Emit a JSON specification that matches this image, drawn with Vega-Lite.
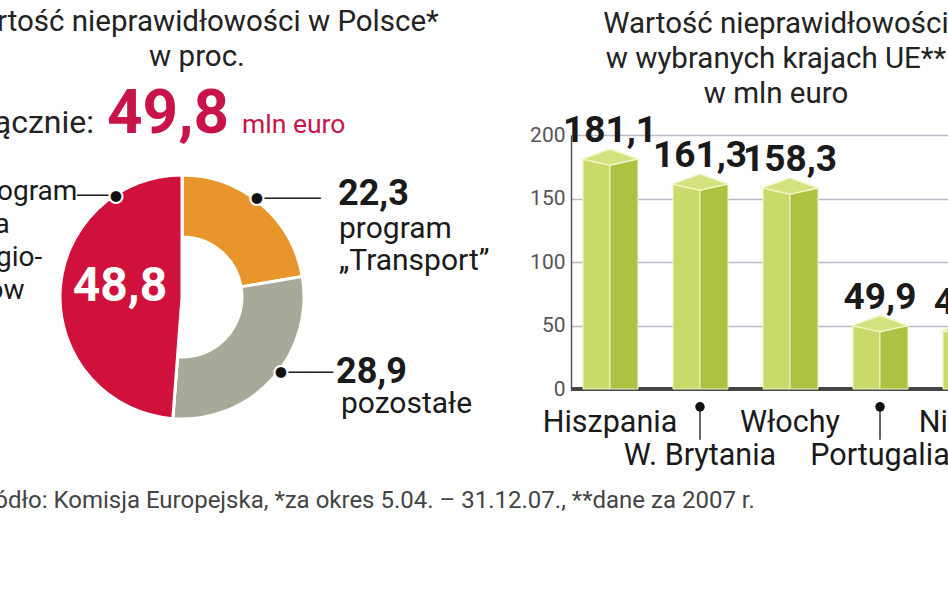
{
  "$schema": "https://vega.github.io/schema/vega-lite/v6.json",
  "padding": {"left": -45, "top": 6, "right": -66, "bottom": 10},
  "autosize": {"type": "pad"},
  "background": "#ffffff",
  "config": {
    "view": {"stroke": null},
    "font": "Roboto",
    "locale": {"number": {"decimal": ",", "thousands": " ", "grouping": [3], "currency": ["", " €"]}}
  },
  "title": {
    "text": "Źródło: Komisja Europejska, *za okres 5.04. – 31.12.07., **dane za 2007 r.",
    "orient": "bottom", "anchor": "start", "frame": "group",
    "fontSize": 24, "fontWeight": "normal", "color": "#444", "font": "Roboto",
    "dx": -50, "offset": 17
  },
  "bounds": "flush",
  "spacing": 229,
  "datasets": {
    "polska": [
      {"kategoria": "program „Transport”", "proc": 22.3},
      {"kategoria": "pozostałe", "proc": 28.9},
      {"kategoria": "program dla regionów", "proc": 48.8}
    ],
    "razem": [{"opis": "Łącznie:", "kwota": 49.8, "jednostka": "mln euro"}],
    "kraje": [
      {"kraj": "Hiszpania", "wartosc": 181.1, "rzad": "gorny"},
      {"kraj": "W. Brytania", "wartosc": 161.3, "rzad": "dolny"},
      {"kraj": "Włochy", "wartosc": 158.3, "rzad": "gorny"},
      {"kraj": "Portugalia", "wartosc": 49.9, "rzad": "dolny"},
      {"kraj": "Niemcy", "wartosc": 46.0, "rzad": "gorny"}
    ]
  },
  "hconcat": [
    {
      "width": 320,
      "height": 324,
      "title": {
        "text": ["Wartość nieprawidłowości w Polsce*", "w proc."],
        "fontSize": 29.5, "fontWeight": "normal", "lineHeight": 35, "color": "#222",
        "anchor": "middle", "frame": "group", "dx": 15, "offset": 11, "font": "Roboto"
      },
      "layer": [
        {
          "data": {"name": "polska"},
          "mark": {"type": "arc", "innerRadius": 60, "outerRadius": 122, "stroke": "#ffffff", "strokeWidth": 3},
          "encoding": {
            "theta": {"field": "proc", "type": "quantitative", "stack": true},
            "order": {"field": "proc", "type": "quantitative", "sort": "ascending"},
            "color": {"field": "kategoria", "type": "nominal", "legend": null,
              "scale": {"domain": ["program „Transport”", "pozostałe", "program dla regionów"], "range": ["#e8962c", "#a9a99b", "#d0113c"]}}
          }
        },
        {
          "data": {"name": "polska"},
          "mark": {"type": "arc", "innerRadius": 0, "outerRadius": 122, "stroke": "#ffffff", "strokeWidth": 3},
          "encoding": {
            "theta": {"field": "proc", "type": "quantitative", "stack": true},
            "order": {"field": "proc", "type": "quantitative", "sort": "ascending"},
            "color": {"field": "kategoria", "type": "nominal", "legend": null},
            "opacity": {"condition": {"test": "datum.kategoria === 'program dla regionów'", "value": 1}, "value": 0}
          }
        },
        {
          "data": {"name": "polska"},
          "transform": [{"filter": "datum.kategoria === 'program dla regionów'"}],
          "mark": {"type": "text", "align": "center", "baseline": "alphabetic", "dx": -62, "dy": 4, "fontSize": 48, "fontWeight": "bold", "color": "#ffffff"},
          "encoding": {"text": {"field": "proc", "type": "quantitative", "format": ".1f"}}
        },
        {
          "data": {"name": "razem"},
          "mark": {"type": "text", "align": "right", "baseline": "alphabetic", "dx": -88, "dy": -164, "fontSize": 32, "color": "#222"},
          "encoding": {"text": {"field": "opis", "type": "nominal"}}
        },
        {
          "data": {"name": "razem"},
          "mark": {"type": "text", "align": "left", "baseline": "alphabetic", "dx": -75, "dy": -164, "fontSize": 62, "fontWeight": "bold", "color": "#c8144a"},
          "encoding": {"text": {"field": "kwota", "type": "quantitative", "format": ".1f"}}
        },
        {
          "data": {"name": "razem"},
          "mark": {"type": "text", "align": "left", "baseline": "alphabetic", "dx": 60, "dy": -164, "fontSize": 26.5, "color": "#c8144a"},
          "encoding": {"text": {"field": "jednostka", "type": "nominal"}}
        },
        {
          "data": {"values": [{"t": ["program", "dla", "regio-", "nów"]}]},
          "mark": {"type": "text", "align": "left", "baseline": "alphabetic", "dx": -210, "dy": -97, "fontSize": 28, "lineHeight": 33, "color": "#1a1a1a"},
          "encoding": {"text": {"field": "t"}}
        },
        {
          "data": {"values": [{"t": ["program", "„Transport”"]}]},
          "mark": {"type": "text", "align": "left", "baseline": "alphabetic", "dx": 157, "dy": -59, "fontSize": 30, "lineHeight": 32, "color": "#1a1a1a"},
          "encoding": {"text": {"field": "t"}}
        },
        {
          "data": {"values": [{"t": "pozostałe"}]},
          "mark": {"type": "text", "align": "left", "baseline": "alphabetic", "dx": 159, "dy": 116, "fontSize": 30, "color": "#1a1a1a"},
          "encoding": {"text": {"field": "t"}}
        },
        {
          "data": {"name": "polska"},
          "transform": [{"filter": "datum.kategoria === 'program „Transport”'"}],
          "mark": {"type": "text", "align": "left", "baseline": "alphabetic", "dx": 156, "dy": -92, "fontSize": 36, "fontWeight": "bold", "color": "#1a1a1a"},
          "encoding": {"text": {"field": "proc", "type": "quantitative", "format": ".1f"}}
        },
        {
          "data": {"name": "polska"},
          "transform": [{"filter": "datum.kategoria === 'pozostałe'"}],
          "mark": {"type": "text", "align": "left", "baseline": "alphabetic", "dx": 154, "dy": 86, "fontSize": 36, "fontWeight": "bold", "color": "#1a1a1a"},
          "encoding": {"text": {"field": "proc", "type": "quantitative", "format": ".1f"}}
        },
        {
          "data": {"values": [{"t": "───"}]},
          "mark": {"type": "text", "align": "left", "baseline": "alphabetic", "font": "DejaVu Sans", "dx": -105, "dy": -95, "fontSize": 19.5, "color": "#222"},
          "encoding": {"text": {"field": "t"}}
        },
        {
          "data": {"values": [{"t": "─────"}]},
          "mark": {"type": "text", "align": "left", "baseline": "alphabetic", "font": "DejaVu Sans", "dx": 80, "dy": -92, "fontSize": 19.5, "color": "#222"},
          "encoding": {"text": {"field": "t"}}
        },
        {
          "data": {"values": [{"t": "────"}]},
          "mark": {"type": "text", "align": "left", "baseline": "alphabetic", "font": "DejaVu Sans", "dx": 104, "dy": 82, "fontSize": 19.5, "color": "#222"},
          "encoding": {"text": {"field": "t"}}
        },
        {
          "data": {"values": [{"t": "●"}]},
          "mark": {"type": "text", "align": "center", "baseline": "middle", "font": "DejaVu Sans", "dx": -66, "dy": -101, "fontSize": 17, "color": "#111", "stroke": "#ffffff", "strokeWidth": 2},
          "encoding": {"text": {"field": "t"}}
        },
        {
          "data": {"values": [{"t": "●"}]},
          "mark": {"type": "text", "align": "center", "baseline": "middle", "font": "DejaVu Sans", "dx": 75, "dy": -99, "fontSize": 17, "color": "#111", "stroke": "#ffffff", "strokeWidth": 2},
          "encoding": {"text": {"field": "t"}}
        },
        {
          "data": {"values": [{"t": "●"}]},
          "mark": {"type": "text", "align": "center", "baseline": "middle", "font": "DejaVu Sans", "dx": 99, "dy": 75, "fontSize": 17, "color": "#111", "stroke": "#ffffff", "strokeWidth": 2},
          "encoding": {"text": {"field": "t"}}
        }
      ]
    },
    {
      "width": 438,
      "height": 254,
      "data": {"name": "kraje"},
      "title": {
        "text": ["Wartość nieprawidłowości", "w wybranych krajach UE**", "w mln euro"],
        "fontSize": 29.5, "fontWeight": "normal", "lineHeight": 35, "color": "#222",
        "anchor": "middle", "frame": "group", "dx": -14, "offset": 3, "font": "Roboto"
      },
      "layer": [
        {
          "mark": {"type": "rule", "color": "#444", "strokeWidth": 3},
          "encoding": {
            "y": {"datum": 0, "type": "quantitative",
              "scale": {"domain": [0, 200], "nice": false},
              "axis": {"values": [0, 50, 100, 150, 200], "grid": true, "gridColor": "#b9b9c9", "gridWidth": 1.5,
                "domain": true, "domainColor": "#555", "domainWidth": 1.5, "ticks": false,
                "labelFontSize": 21, "labelColor": "#555", "labelPadding": 6, "title": null, "labelFont": "Roboto"}}
          }
        },
        {
          "mark": {"type": "bar", "width": 27, "xOffset": -13.5, "color": "#c9da6b", "stroke": "#f3f6c9", "strokeWidth": 1},
          "encoding": {
            "x": {"field": "kraj", "type": "nominal", "sort": null, "axis": null, "scale": {"paddingInner": 0.378, "paddingOuter": 0.122}},
            "y": {"field": "wartosc", "type": "quantitative"}
          }
        },
        {
          "mark": {"type": "bar", "width": 28, "xOffset": 14, "color": "#adc142", "stroke": "#f3f6c9", "strokeWidth": 1},
          "encoding": {
            "x": {"field": "kraj", "type": "nominal", "sort": null},
            "y": {"field": "wartosc", "type": "quantitative"}
          }
        },
        {
          "mark": {"type": "point", "shape": "M-1,0L0,-0.36L1,0L0,0.22Z", "size": 3136, "filled": true, "fill": "#d3e27e", "stroke": "#f3f6c9", "strokeWidth": 1.5, "opacity": 1},
          "encoding": {
            "x": {"field": "kraj", "type": "nominal", "sort": null},
            "y": {"field": "wartosc", "type": "quantitative"}
          }
        },
        {
          "mark": {"type": "text", "baseline": "alphabetic", "dy": -17, "fontSize": 37, "fontWeight": "bold", "color": "#1a1a1a"},
          "encoding": {
            "x": {"field": "kraj", "type": "nominal", "sort": null},
            "y": {"field": "wartosc", "type": "quantitative"},
            "text": {"field": "wartosc", "type": "quantitative", "format": ".1f"}
          }
        },
        {
          "transform": [{"filter": "datum.rzad === 'gorny'"}],
          "mark": {"type": "text", "baseline": "alphabetic", "dy": 43, "fontSize": 30.5, "color": "#1a1a1a"},
          "encoding": {
            "x": {"field": "kraj", "type": "nominal", "sort": null},
            "y": {"datum": 0, "type": "quantitative"},
            "text": {"field": "kraj", "type": "nominal"}
          }
        },
        {
          "transform": [{"filter": "datum.rzad === 'dolny'"}],
          "mark": {"type": "text", "baseline": "alphabetic", "dy": 76, "fontSize": 30.5, "color": "#1a1a1a"},
          "encoding": {
            "x": {"field": "kraj", "type": "nominal", "sort": null},
            "y": {"datum": 0, "type": "quantitative"},
            "text": {"field": "kraj", "type": "nominal"}
          }
        },
        {
          "transform": [{"filter": "datum.rzad === 'dolny'"}],
          "mark": {"type": "rule", "color": "#333", "strokeWidth": 1.5},
          "encoding": {
            "x": {"field": "kraj", "type": "nominal", "sort": null},
            "y": {"datum": -14, "type": "quantitative"},
            "y2": {"datum": -40}
          }
        },
        {
          "transform": [{"filter": "datum.rzad === 'dolny'"}],
          "mark": {"type": "point", "filled": true, "color": "#111", "size": 90, "opacity": 1},
          "encoding": {
            "x": {"field": "kraj", "type": "nominal", "sort": null},
            "y": {"datum": -14, "type": "quantitative"}
          }
        }
      ]
    }
  ]
}
